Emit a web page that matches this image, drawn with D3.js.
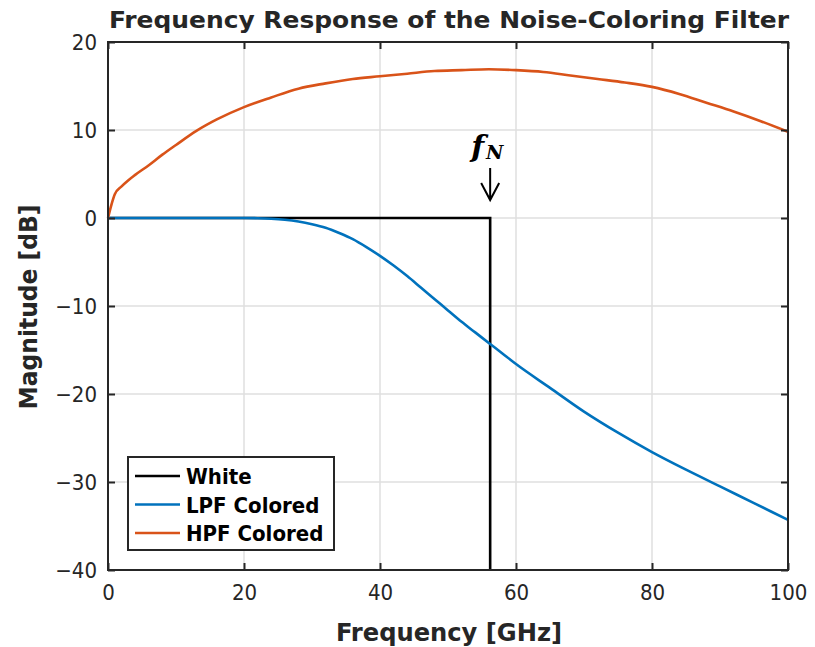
<!DOCTYPE html>
<html lang="en">
<head>
<meta charset="UTF-8">
<title>Frequency Response</title>
<script src="https://d3js.org/d3.v7.min.js"></script>
<style>
  body { margin: 0; background: #fff; }
  svg text { font-family: "DejaVu Sans Condensed", "DejaVu Sans", sans-serif; fill: #262626; }
  .tick text { font-size: 22px; }
</style>
</head>
<body>
<svg width="815" height="647"></svg>
<script>
// frequencies in GHz, magnitudes in dB
const hpfFreq = [0, 0.5, 1, 2, 3, 4, 6, 8, 10, 13, 16, 20, 24, 28, 32, 36, 40, 44, 48, 52, 56, 60, 64, 68, 72, 76, 80, 84, 88, 92, 96, 100];
const hpfMag  = [0, 1.5, 2.7, 3.6, 4.3, 4.9, 6.0, 7.2, 8.3, 9.9, 11.2, 12.6, 13.7, 14.7, 15.3, 15.8, 16.1, 16.4, 16.7, 16.8, 16.9, 16.8, 16.6, 16.2, 15.8, 15.4, 14.9, 14.1, 13.1, 12.1, 11.0, 9.8];

const lpfFreq = [0, 20, 22, 24, 26, 28, 30, 32, 34, 36, 38, 40, 42, 44, 46, 48, 50, 52, 54, 56, 58, 60, 65, 70, 75, 80, 85, 90, 95, 100];
const lpfMag  = [0, 0, -0.02, -0.08, -0.2, -0.4, -0.7, -1.1, -1.7, -2.4, -3.3, -4.3, -5.4, -6.6, -7.9, -9.2, -10.5, -11.8, -13.0, -14.2, -15.4, -16.6, -19.3, -22.0, -24.4, -26.6, -28.6, -30.5, -32.4, -34.3];

const whiteFreq = [0, 56.2, 56.2];
const whiteMag  = [0, 0, -40];

const xTicks = [0, 20, 40, 60, 80, 100];
const yTicks = [-40, -30, -20, -10, 0, 10, 20];

const seriesNames  = ["White", "LPF Colored", "HPF Colored"];
const seriesColors = ["#000000", "#0072BD", "#D95319"];

var margin = {top: 42, left: 108, right: 27, bottom: 77};
var width = 815 - margin.left - margin.right;
var height = 647 - margin.top - margin.bottom;

const svg = d3.select('svg');
const g = svg.append('g').attr('transform', `translate(${margin.left},${margin.top})`);

const x = d3.scaleLinear().domain([0, 100]).range([0, width]);
const y = d3.scaleLinear().domain([-40, 20]).range([height, 0]);

// grid
g.append('g').selectAll('line').data(xTicks.slice(1, -1)).enter().append('line')
  .attr('x1', d => x(d)).attr('x2', d => x(d)).attr('y1', 0).attr('y2', height)
  .attr('stroke', '#dfdfdf').attr('stroke-width', 1.5);
g.append('g').selectAll('line').data(yTicks.slice(1, -1)).enter().append('line')
  .attr('y1', d => y(d)).attr('y2', d => y(d)).attr('x1', 0).attr('x2', width)
  .attr('stroke', '#dfdfdf').attr('stroke-width', 1.5);

// lines
const line = d3.line().x(d => x(d[0])).y(d => y(d[1]));
const series = [
  d3.zip(whiteFreq, whiteMag),
  d3.zip(lpfFreq, lpfMag),
  d3.zip(hpfFreq, hpfMag)
];
const curve = [d3.curveLinear, d3.curveMonotoneX, d3.curveMonotoneX];
series.forEach((s, i) => {
  g.append('path').datum(s)
    .attr('fill', 'none')
    .attr('stroke', seriesColors[i])
    .attr('stroke-width', 2.6)
    .attr('d', line.curve(curve[i]));
});

// axes (ticks inward, box)
const axisStyle = sel => {
  sel.select('.domain').remove();
  sel.selectAll('.tick line').attr('stroke', '#262626').attr('stroke-width', 2);
};
g.append('g').attr('transform', `translate(0,${height})`)
  .call(d3.axisBottom(x).tickValues(xTicks).tickSizeInner(-7).tickPadding(17))
  .call(axisStyle)
  .selectAll('text').attr('dy', '0.6em');
g.append('g').call(d3.axisTop(x).tickValues(xTicks).tickSizeInner(-7).tickFormat(''))
  .call(axisStyle);
g.append('g')
  .call(d3.axisLeft(y).tickValues(yTicks).tickSizeInner(-7).tickPadding(11)
    .tickFormat(d => d < 0 ? '\u2212' + Math.abs(d) : d))
  .call(axisStyle);
g.append('g').attr('transform', `translate(${width},0)`)
  .call(d3.axisRight(y).tickValues(yTicks).tickSizeInner(-7).tickFormat(''))
  .call(axisStyle);
g.append('rect').attr('width', width).attr('height', height)
  .attr('fill', 'none').attr('stroke', '#262626').attr('stroke-width', 2);

// labels
svg.append('text').attr('x', 449).attr('y', 28).attr('text-anchor', 'middle')
  .style('font-size', '23px').style('font-weight', 'bold')
  .attr('textLength', 680).attr('lengthAdjust', 'spacingAndGlyphs')
  .text('Frequency Response of the Noise-Coloring Filter');
svg.append('text').attr('x', 449).attr('y', 641).attr('text-anchor', 'middle')
  .style('font-size', '24px').style('font-weight', 'bold')
  .attr('textLength', 226).attr('lengthAdjust', 'spacingAndGlyphs')
  .text('Frequency [GHz]');
svg.append('text').attr('transform', `translate(37,307) rotate(-90)`)
  .attr('text-anchor', 'middle')
  .style('font-size', '24px').style('font-weight', 'bold')
  .attr('textLength', 205).attr('lengthAdjust', 'spacingAndGlyphs')
  .text('Magnitude [dB]');

// f_N annotation
const fx = x(56.2);
const ann = g.append('text').attr('x', fx - 19).attr('y', 157 - margin.top)
  .style('font-family', '"DejaVu Serif", serif').style('font-weight', 'bold').style('font-style', 'italic')
  .style('fill', '#000');
ann.append('tspan').style('font-size', '30px').text('f');
ann.append('tspan').style('font-size', '19px').attr('dx', 2).attr('dy', 2).text('N');
const ay1 = 168 - margin.top, ay2 = 200 - margin.top;
g.append('path')
  .attr('d', `M${fx},${ay1}V${ay2}M${fx - 9},${ay2 - 17}L${fx},${ay2}L${fx + 9},${ay2 - 17}`)
  .attr('fill', 'none').attr('stroke', '#000').attr('stroke-width', 2);

// legend
const lg = svg.append('g').attr('transform', 'translate(128,457)');
lg.append('rect').attr('width', 206).attr('height', 93)
  .attr('fill', '#fff').attr('stroke', '#262626').attr('stroke-width', 2);
seriesNames.forEach((n, i) => {
  const ly = 19 + i * 28.5;
  lg.append('line').attr('x1', 7).attr('x2', 52).attr('y1', ly).attr('y2', ly)
    .attr('stroke', seriesColors[i]).attr('stroke-width', 2.6);
  lg.append('text').attr('x', 58).attr('y', ly + 8)
    .style('font-size', '22px').style('font-weight', 'bold').style('fill', '#000').text(n);
});
</script>
</body>
</html>
